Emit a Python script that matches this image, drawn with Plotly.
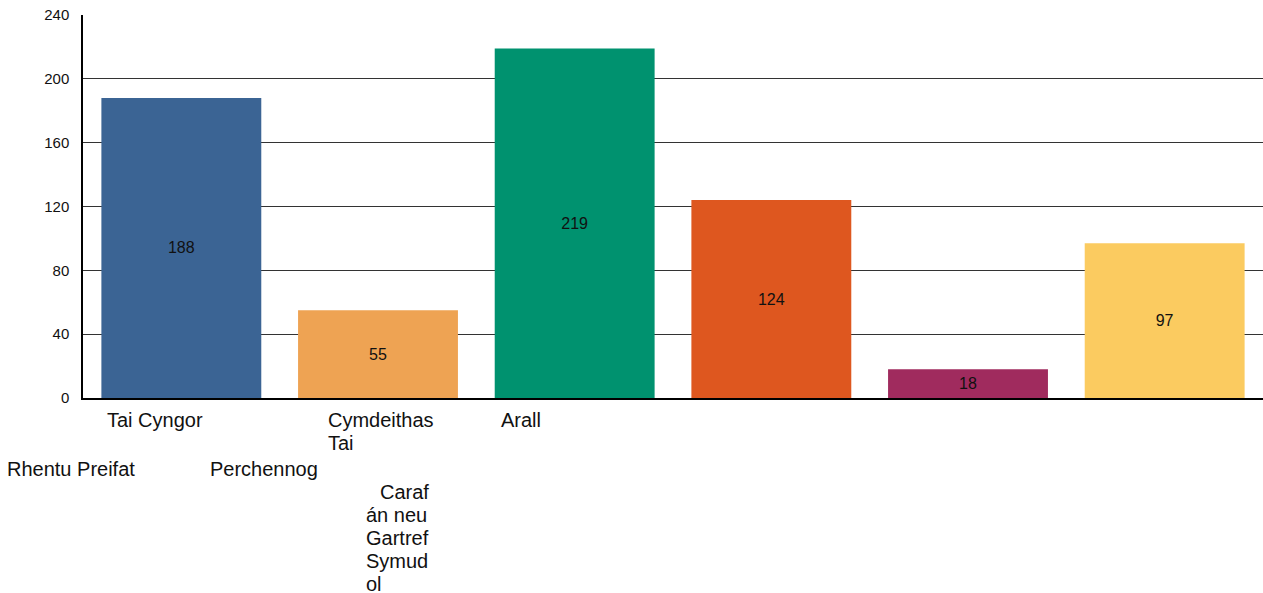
import plotly.graph_objects as go

categories = ["Tai Cyngor", "Cymdeithas Tai", "Rhentu Preifat", "Perchennog",
              "Carafán neu Gartref Symudol", "Arall"]
values = [188, 55, 219, 124, 18, 97]
bar_colors = ["#3B6494", "#EEA353", "#00926F", "#DE571F", "#A02B5E", "#FBCB60"]
y_ticks = [0, 40, 80, 120, 160, 200, 240]

W, H = 1263, 593
ML, MR, MT, MB = 83, 0, 15, 195
PW, PH = W - ML - MR, H - MT - MB
LINE_H = 23

# label layout as rendered in the reference: lines of (left px, top px, text)
label_layout = {
    "Tai Cyngor": [(106, 408, "Tai Cyngor")],
    "Cymdeithas Tai": [(327, 408, "Cymdeithas"), (327, 408 + LINE_H, "Tai")],
    "Arall": [(500, 408, "Arall")],
    "Rhentu Preifat": [(6, 457, "Rhentu Preifat")],
    "Perchennog": [(209, 457, "Perchennog")],
    "Carafán neu Gartref Symudol": [
        (379, 480, "Caraf"),
        (365, 480 + LINE_H, "án neu"),
        (365, 480 + 2 * LINE_H, "Gartref"),
        (365, 480 + 3 * LINE_H, "Symud"),
        (365, 480 + 4 * LINE_H, "ol"),
    ],
}

FONT = "Liberation Sans, Arial, sans-serif"

fig = go.Figure(go.Bar(
    x=categories, y=values,
    marker=dict(color=bar_colors, line=dict(width=0)),
    text=[str(v) for v in values],
    textposition="inside", insidetextanchor="middle",
    textfont=dict(color="#111", size=16, family=FONT),
    constraintext="none",
))

annotations = []
for cat in categories:
    for px, py, txt in label_layout.get(cat, []):
        annotations.append(dict(
            text=txt, xref="paper", yref="paper",
            x=(px - ML) / PW, y=(H - MB - py) / PH,
            xanchor="left", yanchor="top", align="left",
            showarrow=False, borderpad=0,
            font=dict(size=20, color="#111", family=FONT),
        ))

fig.update_layout(
    width=W, height=H,
    margin=dict(l=ML, r=MR, t=MT, b=MB, pad=0),
    paper_bgcolor="white", plot_bgcolor="white",
    showlegend=False, bargap=0.187,
    font=dict(family=FONT, color="#111"),
    xaxis=dict(showticklabels=False, showline=True, linecolor="black", linewidth=1.5,
               showgrid=False, zeroline=False, ticks=""),
    yaxis=dict(range=[0, 240], tickvals=y_ticks, showline=True, linecolor="black",
               linewidth=1.5, showgrid=True, gridcolor="#333", gridwidth=1,
               zeroline=False, ticks="", ticklabelstandoff=9,
               tickfont=dict(size=15, color="#111", family=FONT)),
    annotations=annotations,
)

fig.write_html("out.html", config={"displayModeBar": False},
               post_script="document.body.style.margin='0';document.body.style.overflow='hidden';")
